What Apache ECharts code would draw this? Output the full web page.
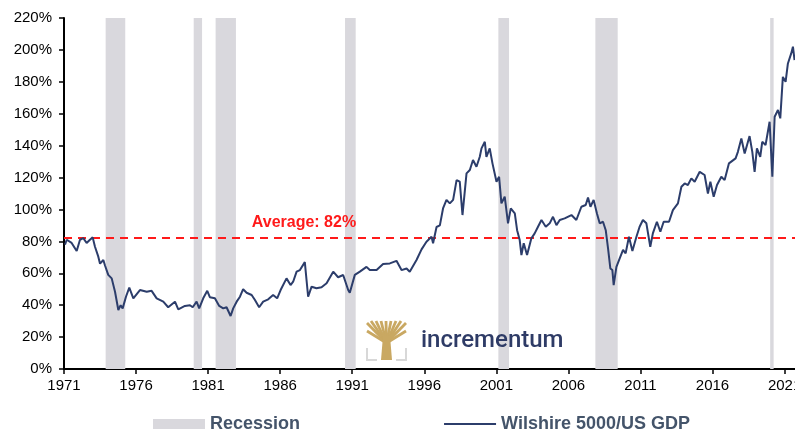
<!DOCTYPE html>
<html>
<head>
<meta charset="utf-8">
<script src="https://cdn.jsdelivr.net/npm/echarts@6/dist/echarts.min.js"></script>
<style>
  html, body { margin: 0; padding: 0; background: #fff; }
  #chart { width: 795px; height: 432px; }
</style>
</head>
<body>
<div id="chart"></div>
<script>
// Wilshire 5000 / US GDP, in %
const years = [
  1971.07, 1971.19, 1971.53, 1971.88, 1972.11, 1972.34, 1972.57, 1972.80, 1972.99, 1973.15,
  1973.38, 1973.50, 1973.73, 1973.84, 1974.07, 1974.31, 1974.54, 1974.77, 1974.93, 1975.07,
  1975.30, 1975.53, 1975.81, 1976.27, 1976.74, 1977.08, 1977.43, 1977.89, 1978.23, 1978.70,
  1978.93, 1979.39, 1979.74, 1979.93, 1980.20, 1980.38, 1980.66, 1980.94, 1981.12, 1981.47,
  1981.77, 1982.05, 1982.28, 1982.56, 1982.74, 1982.98, 1983.21, 1983.43, 1983.67, 1984.02,
  1984.25, 1984.54, 1984.82, 1985.17, 1985.51, 1985.79, 1986.03, 1986.44, 1986.72, 1986.90,
  1987.14, 1987.37, 1987.71, 1987.94, 1988.18, 1988.52, 1988.87, 1989.22, 1989.68, 1990.02,
  1990.37, 1990.72, 1990.83, 1991.18, 1991.53, 1991.99, 1992.22, 1992.69, 1993.14, 1993.61,
  1994.07, 1994.42, 1994.77, 1994.99, 1995.46, 1995.81, 1996.15, 1996.50, 1996.61, 1996.85,
  1997.08, 1997.30, 1997.54, 1997.77, 1998.00, 1998.24, 1998.46, 1998.65, 1998.93, 1999.16,
  1999.38, 1999.62, 1999.85, 1999.97, 2000.20, 2000.31, 2000.54, 2000.73, 2001.01, 2001.19,
  2001.35, 2001.58, 2001.81, 2002.00, 2002.28, 2002.44, 2002.62, 2002.74, 2002.90, 2003.13,
  2003.43, 2003.66, 2003.89, 2004.13, 2004.43, 2004.70, 2004.93, 2005.17, 2005.40, 2005.74,
  2006.21, 2006.55, 2006.90, 2007.20, 2007.36, 2007.53, 2007.75, 2007.98, 2008.17, 2008.40,
  2008.59, 2008.75, 2008.91, 2009.05, 2009.14, 2009.33, 2009.56, 2009.79, 2009.97, 2010.20,
  2010.44, 2010.72, 2010.94, 2011.17, 2011.41, 2011.68, 2011.86, 2012.14, 2012.38, 2012.61,
  2012.98, 2013.25, 2013.60, 2013.84, 2014.07, 2014.29, 2014.53, 2014.76, 2015.11, 2015.45,
  2015.68, 2015.85, 2016.08, 2016.31, 2016.61, 2016.84, 2017.14, 2017.60, 2017.76, 2018.00,
  2018.23, 2018.57, 2018.76, 2018.92, 2019.08, 2019.31, 2019.45, 2019.68, 2019.96, 2020.15,
  2020.31, 2020.54, 2020.70, 2020.88, 2021.07, 2021.23, 2021.46, 2021.58, 2021.69
]
const ratio = [
  78, 81, 79, 74, 81, 82, 79, 81, 82.5, 76.6,
  70.4, 66, 68.3, 65, 59, 56.8, 48.4, 37, 40, 38,
  45.3, 51, 44.3, 49.5, 48.4, 49, 44.3, 42.2, 38.7, 42.2,
  37.4, 39.5, 40, 38.7, 42.2, 38, 44.3, 49, 45, 44.3,
  39.5, 38, 38.7, 33.2, 38, 42.2, 45.3, 50, 47.8, 46.4,
  43.2, 38.7, 42.2, 43.7, 46.4, 44.3, 49.5, 56.8, 52.6, 54.7,
  61, 62, 67, 45.3, 51.6, 50.6, 51.2, 53.7, 61, 57.5,
  58.9, 49.5, 47.8, 59, 61, 64, 62, 62, 65.8, 66.2,
  67.8, 62, 63, 61, 68.3, 75, 79.8, 82.9, 78.8, 89,
  90, 100.6, 106, 103.8, 106, 118.4, 117.4, 96.5, 122.6, 124.7,
  131, 126.8, 133, 138.3, 142.4, 133, 138.3, 128.9, 117.4, 120.5,
  103.8, 108, 91.3, 100.7, 97.5, 87, 80.8, 71.4, 78.8, 71.4,
  81.9, 85, 89.2, 93.4, 89.2, 91.3, 95.4, 90.2, 93.4, 94.4,
  96.5, 93.4, 101.7, 102.8, 107.5, 101.7, 106, 97.5, 91.3, 92.3,
  87, 75.6, 63, 62, 52.6, 64, 69.4, 74.6, 72.5, 82.9,
  74, 82.9, 89.2, 93.4, 91.3, 76.6, 85, 92.3, 86, 92.3,
  92.3, 99.6, 103.8, 114.2, 116.3, 115.3, 119.5, 117.4, 123.6, 121.6,
  110, 117.4, 108, 115.3, 120.5, 118.4, 128.9, 132, 136.1, 144.5,
  135.1, 146, 136.1, 123.6, 138.3, 133, 142.4, 140.4, 155, 120.5,
  158.1, 162.3, 157.1, 183.1, 180, 191.5, 197.8, 202, 193.6
]
const recessionStart = [1973.89, 1980.0, 1981.52, 1990.5, 2001.14, 2007.87, 2020.0]
const recessionEnd = [1975.25, 1980.58, 1982.93, 1991.24, 2001.88, 2009.42, 2020.24]
const average = 82
const firstYear = 1971
const lastYear = 2022

const lineColor = '#2c3d6b'
const bandColor = '#d9d8dd'
const textColor = '#44546a'
const font = 'Liberation Sans, Arial, sans-serif'

const lineData = years.map((y, i) => [y - firstYear, ratio[i]])
const bands = recessionStart.map((s, i) => [
  { xAxis: s - firstYear },
  { xAxis: recessionEnd[i] - firstYear },
])

// watermark logo
const gold = '#c9a862'
const branchTops = [[367, 323], [371, 321], [376, 321], [381, 321], [386, 321], [391, 321], [396, 321], [401, 321], [406, 323], [367, 331], [406, 331]]
const logo = [
  ...branchTops.map(p => ({
    type: 'line',
    z: 3,
    shape: { x1: 386.5, y1: 343, x2: p[0], y2: p[1] },
    style: { stroke: gold, lineWidth: 2.8 },
  })),
  {
    type: 'polygon',
    z: 3,
    shape: { points: [[383, 336], [390, 336], [392, 360], [381, 360]] },
    style: { fill: gold },
  },
  {
    type: 'polyline',
    z: 3,
    shape: { points: [[367, 348], [367, 360], [377, 360]] },
    style: { stroke: '#d8d8d8', lineWidth: 2, fill: null },
  },
  {
    type: 'polyline',
    z: 3,
    shape: { points: [[396, 360], [406, 360], [406, 348]] },
    style: { stroke: '#d8d8d8', lineWidth: 2, fill: null },
  },
  {
    type: 'text',
    z: 4,
    style: {
      x: 421,
      y: 341,
      text: 'incrementum',
      fill: '#2e3b66',
      font: '500 24px Roboto, sans-serif',
      textVerticalAlign: 'middle',
    },
  },
]

const option = {
  animation: false,
  grid: { left: 64, top: 18, width: 735, height: 351, outerBoundsMode: 'none' },
  legend: {
    left: 153,
    top: 415,
    padding: 0,
    itemWidth: 52,
    itemHeight: 10,
    itemGap: 143,
    textStyle: { color: textColor, fontSize: 18, fontWeight: 'bold', fontFamily: font },
    data: [
      { name: 'Recession', icon: 'rect' },
      { name: 'Wilshire 5000/US GDP', itemStyle: { opacity: 0 } },
    ],
  },
  xAxis: {
    type: 'value',
    min: 0,
    max: lastYear - firstYear,
    interval: 5,
    splitLine: { show: false },
    axisLine: { lineStyle: { color: '#000', width: 2 } },
    axisTick: { length: 5, lineStyle: { color: '#000', width: 1.5 } },
    axisLabel: {
      color: '#000',
      fontSize: 15,
      fontFamily: font,
      margin: 9,
      showMaxLabel: false,
      formatter: v => String(firstYear + v),
    },
  },
  yAxis: {
    type: 'value',
    min: 0,
    max: 220,
    interval: 20,
    splitLine: { show: false },
    axisLine: { show: true, lineStyle: { color: '#000', width: 2 } },
    axisTick: { show: true, length: 5, lineStyle: { color: '#000', width: 1.5 } },
    axisLabel: {
      color: '#000',
      fontSize: 15,
      fontFamily: font,
      margin: 12,
      formatter: '{value}%',
    },
  },
  graphic: logo,
  series: [
    {
      name: 'Recession',
      type: 'line',
      data: [],
      color: bandColor,
      itemStyle: { color: bandColor },
      markArea: {
        silent: true,
        itemStyle: { color: bandColor },
        data: bands,
      },
      z: 0,
    },
    {
      name: 'Wilshire 5000/US GDP',
      type: 'line',
      data: lineData,
      showSymbol: false,
      symbol: 'none',
      color: lineColor,
      lineStyle: { color: lineColor, width: 2 },
      z: 5,
      markLine: {
        silent: true,
        symbol: 'none',
        lineStyle: { color: '#ff1a1a', width: 2, type: [8, 6] },
        label: { show: false },
        data: [{ yAxis: average }],
      },
      markPoint: {
        silent: true,
        symbol: 'circle',
        symbolSize: 0,
        label: {
          show: true,
          position: 'top',
          distance: 8,
          color: '#ff1a1a',
          fontSize: 16,
          fontWeight: 'bold',
          fontFamily: font,
          formatter: 'Average: ' + average + '%',
        },
        data: [{ coord: [1987.65 - firstYear, average] }],
      },
    },
  ],
}

const chart = echarts.init(document.getElementById('chart'))
chart.setOption(option)
</script>
</body>
</html>
